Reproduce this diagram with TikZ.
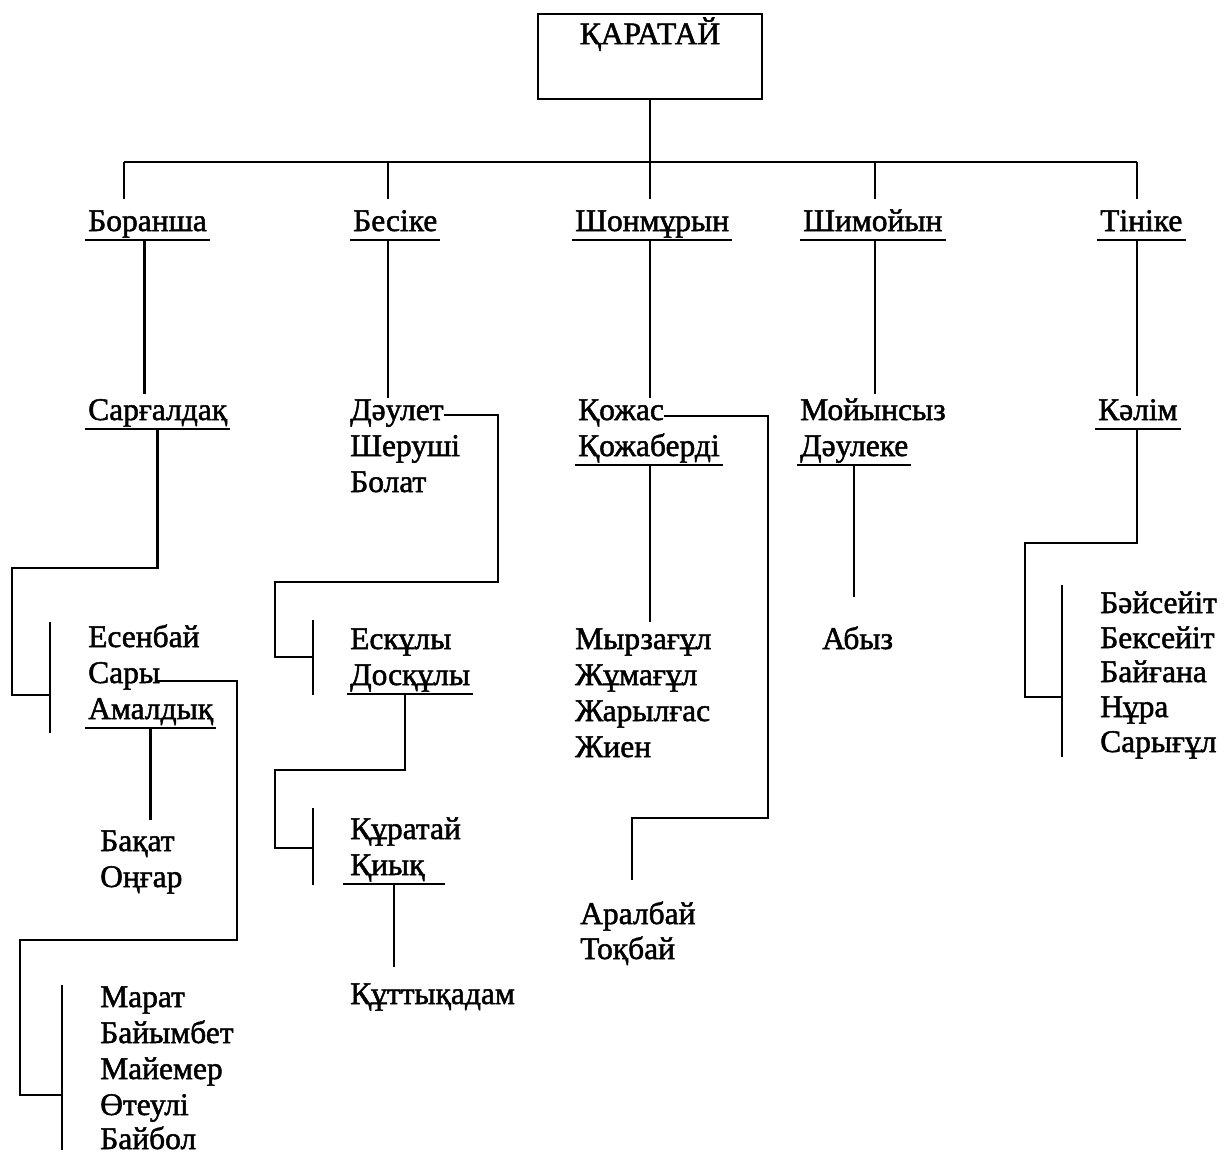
\documentclass[tikz,border=0pt]{standalone}
\usepackage{fontspec}
\setmainfont{Liberation Serif}
\newfontfamily\nmfam{Liberation Serif}[FakeBold=1.6]
\usetikzlibrary{calc}
\newcommand\nmfont{\nmfam\fontsize{31.5}{36}\selectfont}
\begin{document}
\begin{tikzpicture}[x=1pt,y=-1pt,
  ln/.style={line width=2.4pt},
  nm/.style={anchor=base west, inner sep=0pt, text height=20pt, text depth=9pt, font=\nmfont},
  hd/.style={draw, line width=2.4pt, anchor=north, minimum width=224pt, inner xsep=0pt, inner ysep=10pt, text height=20pt, text depth=45pt, font=\nmfont}
]
\newcommand\undl[1]{\draw[ln] ([xshift=-3pt]#1.south west) -- ([xshift=3pt]#1.south east);}
\useasboundingbox (0,0) rectangle (1225,1154);

% root
\node[hd] (top) at (650,13) {ҚАРАТАЙ};

% row 1
\node[nm] (bor)  at (88,231)  {Боранша};
\node[nm] (bes)  at (353,231) {Бесіке};
\node[nm] (sh)   at (575,231) {Шонмұрын};
\node[nm] (shim) at (803,231) {Шимойын};
\node[nm] (tin)  at (1100,231) {Тініке};
\undl{bor}\undl{bes}\undl{sh}\undl{shim}\undl{tin}

\coordinate (bL) at (124,162);
\coordinate (b2) at (388,162);
\coordinate (b4) at (875,162);
\coordinate (bR) at (1137,162);
\draw[ln] (bL) -- (bR);
\draw[ln] (top.south) -- ([yshift=12pt]sh.north -| top.south);
\draw[ln] (bL) -- ([yshift=12pt]bor.north -| bL);
\draw[ln] (b2) -- ([yshift=12pt]bes.north -| b2);
\draw[ln] (b4) -- ([yshift=12pt]shim.north -| b4);
\draw[ln] (bR) -- ([yshift=12pt]tin.north -| bR);

% row 2
\node[nm] (sarg) at (88,420)  {Сарғалдақ};
\node[nm] (daul) at (350,420) {Дәулет};
\node[nm] (sher) at (350,456) {Шеруші};
\node[nm] (bol)  at (350,492) {Болат};
\node[nm] (koj)  at (578,420) {Қожас};
\node[nm] (kojb) at (578,456) {Қожаберді};
\node[nm] (moy)  at (800,420) {Мойынсыз};
\node[nm] (daulk) at (800,456) {Дәулеке};
\node[nm] (kal)  at (1098,420) {Кәлім};
\undl{sarg}\undl{kojb}\undl{daulk}\undl{kal}

\draw[ln] ([xshift=-3pt]bor.south) -- ([xshift=-3pt,yshift=6pt]bor.south |- sarg.north);
\draw[ln] ([xshift=-7pt]bes.south) -- ([xshift=-7pt,yshift=2pt]bes.south |- daul.north);
\draw[ln] (top.south |- sh.south) -- ([yshift=2pt]top.south |- koj.north);
\draw[ln] (b4 |- shim.south) -- ([yshift=6pt]b4 |- moy.north);
\draw[ln] (bR |- tin.south) -- ([yshift=4pt]bR |- kal.north);

% Боранша branch
\node[nm] (esen) at (88,647) {Есенбай};
\node[nm] (sary) at (88,683) {Сары};
\node[nm] (amal) at (88,719) {Амалдық};
\undl{amal}
\coordinate (kA1) at (50,622);
\coordinate (kA2) at (50,733);
\draw[ln] (kA1) -- (kA2);
\draw[ln] (sarg.south) |- (12,568) |- (kA1 |- 0,695);

\node[nm] (bak) at (100,851) {Бақат};
\node[nm] (ong) at (100,887) {Оңғар};
\draw[ln] (amal.south) -- ([yshift=11pt]amal.south |- bak.north);

\coordinate (kB1) at (62,985);
\coordinate (kB2) at (62,1150);
\draw[ln] (kB1) -- (kB2);
\draw[ln] ([xshift=-4pt,yshift=2pt]sary.base east) -| (237,940) -| (20,1095) -- (kB1 |- 0,1095);
\node[nm] (mar)  at (100,1007) {Марат};
\node[nm] (bay)  at (100,1043) {Байымбет};
\node[nm] (may)  at (100,1079) {Майемер};
\node[nm] (ote)  at (100,1115) {Өтеулі};
\node[nm] (bayb) at (100,1149) {Байбол};

% Бесіке branch
\coordinate (kC1) at (313,620);
\coordinate (kC2) at (313,695);
\draw[ln] (kC1) -- (kC2);
\draw[ln] ([yshift=5pt]daul.base east) -| (498,582) -| (275,657) -- (kC1 |- 0,657);
\node[nm] (esk)  at (350,649) {Ескұлы};
\node[nm] (dosk) at (350,685) {Досқұлы};
\undl{dosk}

\coordinate (kD1) at (313,808);
\coordinate (kD2) at (313,885);
\draw[ln] (kD1) -- (kD2);
\draw[ln] ([xshift=-5pt]dosk.south) |- (275,770) |- (kD1 |- 0,848);
\node[nm] (kur)  at (350,839) {Құратай};
\node[nm] (kiyk) at (350,875) {Қиық};
\coordinate (kiykL) at ([xshift=-7pt]kiyk.south west);
\coordinate (kiykR) at (445,0 |- kiyk.south);
\draw[ln] (kiykL) -- (kiykR);
\coordinate (kiykM) at ($(kiykL)!0.5!(kiykR)$);
\node[nm] (kutt) at (350,1004) {Құттықадам};
\draw[ln] (kiykM) -- ([yshift=17pt]kiykM |- kutt.north);

% Шонмұрын branch
\node[nm] (myrz) at (575,649) {Мырзағұл};
\node[nm] (jum)  at (575,685) {Жұмағұл};
\node[nm] (jar)  at (575,721) {Жарылғас};
\node[nm] (jien) at (575,757) {Жиен};
\draw[ln] (top.south |- kojb.south) -- ([yshift=7pt]top.south |- myrz.north);
\node[nm] (aral) at (580,924) {Аралбай};
\node[nm] (tok)  at (580,959) {Тоқбай};
\draw[ln] ([yshift=4pt]koj.base east) -| (768,818) -| ([yshift=24pt]aral.north -| 632,0);

% Шимойын branch
\node[nm] (abyz) at (822,649) {Абыз};
\draw[ln] (daulk.south) -- ([yshift=32pt]daulk.south |- abyz.north);

% Тініке branch
\coordinate (kE1) at (1062,585);
\coordinate (kE2) at (1062,757);
\draw[ln] (kE1) -- (kE2);
\draw[ln] (bR |- kal.south) |- (1025,543) |- (kE1 |- 0,697);
\node[nm] (bays) at (1100,613) {Бәйсейіт};
\node[nm] (beks) at (1100,648) {Бексейіт};
\node[nm] (bayg) at (1100,682) {Байғана};
\node[nm] (nura) at (1100,717) {Нұра};
\node[nm] (saryg) at (1100,752) {Сарығұл};
\end{tikzpicture}
\end{document}
